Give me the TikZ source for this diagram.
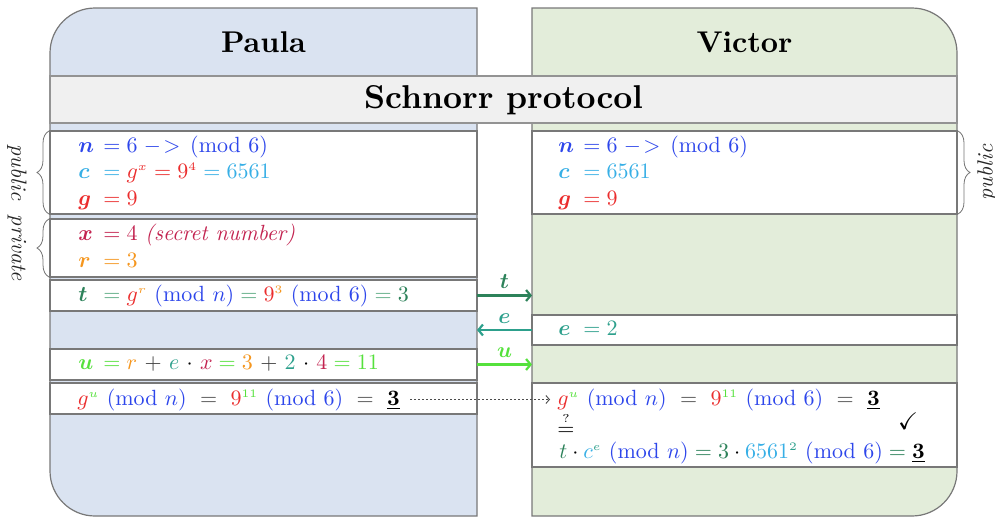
\RequirePackage{fix-cm}
\documentclass[tikz,border=0pt]{standalone}
\usepackage{amsmath,amssymb,bm}
\usetikzlibrary{arrows.meta,decorations.pathreplacing}
\DeclareMathSizes{10}{10}{5.2}{5}
\definecolor{nb}{RGB}{45,70,235}
\definecolor{cc}{RGB}{55,175,230}
\definecolor{gr}{RGB}{235,45,45}
\definecolor{xc}{RGB}{195,35,80}
\definecolor{ro}{RGB}{245,150,30}
\definecolor{tg}{RGB}{45,130,90}
\definecolor{tgl}{RGB}{90,170,130}
\definecolor{et}{RGB}{45,160,140}
\definecolor{ug}{RGB}{85,225,60}
\definecolor{pblue}{RGB}{218,227,241}
\definecolor{vgreen}{RGB}{227,237,218}
\definecolor{bandc}{RGB}{240,240,240}
\definecolor{edge}{RGB}{120,120,120}
\newcommand{\lhsv}[2]{\makebox[8.6pt][l]{$\color{#1}\bm{#2}$}}
\newcommand{\modsix}{\,(\mathrm{mod}\mkern6mu 6)}
\newcommand{\pmd}[1]{\mkern6mu(\mathrm{mod}\mkern6mu #1)}
\begin{document}
\begin{tikzpicture}[x=1pt,y=1pt,
  panelL/.style={fill=pblue, draw=edge, line width=1.2pt},
  panelR/.style={fill=vgreen, draw=edge, line width=1.2pt},
  box/.style={draw=edge, fill=white, line width=1.3pt, inner sep=0pt, outer sep=0pt},
  band/.style={draw=edge!80, fill=bandc, line width=1.2pt, inner sep=0pt},
  head/.style={inner sep=0pt, anchor=base, font=\bfseries, scale=3.0},
  ttlstyle/.style={inner sep=0pt, anchor=base, font=\bfseries, scale=3.3},
  txt/.style={inner sep=0pt, anchor=base west, scale=2.2},
  msg/.style={line width=2.2pt, -{Straight Barb[length=4.5pt,width=11pt]}},
  lbl/.style={anchor=base, yshift=7pt, inner sep=0pt, scale=2.2},
  dotarrow/.style={draw=black!70, line width=0.9pt, dash pattern=on 2pt off 2pt, -{Straight Barb[length=3.5pt,width=8pt]}},
  brace/.style={decorate, decoration={brace, amplitude=12pt}, draw=black!55, line width=0.8pt},
  rotlbl/.style={inner sep=0pt, font=\itshape, text=black!85, scale=2.2}]
\useasboundingbox (0,0) rectangle (995,-517);
% panels
\path[panelL] (477,-8) -- (95,-8) arc[start angle=90,end angle=180,radius=45] -- (50,-471) arc[start angle=180,end angle=270,radius=45] -- (477,-516) -- cycle;
\path[panelR] (532,-8) -- (912,-8) arc[start angle=90,end angle=0,radius=45] -- (957,-471) arc[start angle=0,end angle=-90,radius=45] -- (532,-516) -- cycle;
\node[head] (paula) at (263.5,-52) {Paula};
\node[head] (victor) at (744.5,-52) {Victor};
\node[band, minimum width=907, minimum height=47] (band) at (503.5,-99.5) {};
\node[ttlstyle] (ttl) at (503.5,-108) {Schnorr protocol};
% Paula boxes
\node[box, minimum width=427, minimum height=83] (pb1) at (263.5,-172.5) {};
\node[box, minimum width=427, minimum height=58] (pb2) at (263.5,-248) {};
\node[box, minimum width=427, minimum height=31] (pb3) at (263.5,-295.5) {};
\node[box, minimum width=427, minimum height=31] (pb4) at (263.5,-364.5) {};
\node[box, minimum width=427, minimum height=31] (pb5) at (263.5,-398.5) {};
% Victor boxes
\node[box, minimum width=425, minimum height=83] (vb1) at (744.5,-172.5) {};
\node[box, minimum width=425, minimum height=30] (vb2) at (744.5,-330) {};
\node[box, minimum width=425, minimum height=84] (vb3) at (744.5,-425) {};
% Paula texts
\node[txt] (l1) at (78,-152) {$\lhsv{nb}{n} \color{nb} = 6 \mathrel{-\!>} \modsix$};
\node[txt] (l2) at (78,-178) {$\lhsv{cc}{c} \color{cc} = \color{gr} g^{x} = 9^{4} \color{cc} = 6561$};
\node[txt] (l3) at (78,-205) {$\lhsv{gr}{g} \color{gr} = 9$};
\node[txt] (l4) at (78,-240) {$\lhsv{xc}{x} \color{xc} = 4\ \textit{(secret number)}$};
\node[txt] (l5) at (78,-267) {$\lhsv{ro}{r} \color{ro} = 3$};
\node[txt] (l6) at (78,-301) {$\lhsv{tg}{t} \color{tgl} = \color{gr} g^{\color{ro}r} \color{nb}\pmd{n} \color{tgl} = \color{gr} 9^{\color{ro}3} \color{nb}\pmd{6} \color{tgl} = \color{tg} 3$};
\node[txt] (l7) at (78,-369) {$\medmuskip=6mu \lhsv{ug}{u} \color{ug} = \color{ro} r \color{black!75} + \color{et} e \color{black} \cdot \color{xc} x \color{ug} = \color{ro} 3 \color{black!75} + \color{et} 2 \color{black}\cdot \color{xc} 4 \color{ug} = 11$};
\node[txt] (l8) at (77,-405) {$\color{gr} g^{\color{ug}u} \color{nb}\pmd{n} \color{black!70} \ =\ \color{gr} 9^{\color{ug}11} \color{nb}\pmd{6} \color{black!70}\ =\ \color{black}\underline{\mathbf{3}}$};
% Victor texts
\node[txt] (r1) at (558,-152) {$\lhsv{nb}{n} \color{nb} = 6 \mathrel{-\!>} \modsix$};
\node[txt] (r2) at (558,-178) {$\lhsv{cc}{c} \color{cc} = 6561$};
\node[txt] (r3) at (558,-205) {$\lhsv{gr}{g} \color{gr} = 9$};
\node[txt] (r4) at (558,-335) {$\lhsv{et}{e} \color{et} = 2$};
\node[txt] (r5) at (557,-405) {$\color{gr} g^{\color{ug}u} \color{nb}\pmd{n} \color{black!70} \ =\ \color{gr} 9^{\color{ug}11} \color{nb}\pmd{6} \color{black!70}\ =\ \color{black}\underline{\mathbf{3}}$};
\node[txt] (r6) at (557,-435) {$\stackrel{?}{=}$};
\node[txt] (r7) at (559,-458) {$\color{tg} t \color{black}\cdot \color{cc} c^{\color{et}e} \color{nb}\pmd{n} \color{tg} = 3 \color{black}\cdot \color{cc} 6561^{\color{et}2} \color{nb}\pmd{6} \color{tg} = \color{black}\underline{\mathbf{3}}$};
\node[inner sep=0pt, scale=2.4] (chk) at (908,-421) {$\checkmark$};
% connectors
\coordinate (vL) at (532,0);
\coordinate (pR) at (477,0);
\draw[msg, draw=tg] (pb3.east) -- node[lbl, text=tg] {$\bm{t}$} (pb3.east -| vL);
\draw[msg, draw=et] (vb2.west) -- node[lbl, text=et] {$\bm{e}$} (vb2.west -| pR);
\draw[msg, draw=ug] (pb4.east) -- node[lbl, text=ug] {$\bm{u}$} (pb4.east -| vL);
\draw[dotarrow] ([xshift=10pt]l8.east) -- ([xshift=-7pt]r5.west);
% braces
\draw[brace] ([xshift=-1pt]pb1.south west) -- ([xshift=-1pt]pb1.north west);
\draw[brace] ([xshift=-1pt]pb2.south west) -- ([xshift=-1pt]pb2.north west);
\draw[brace] ([xshift=1pt]vb1.north east) -- ([xshift=1pt]vb1.south east);
\node[rotlbl, rotate=-90] (pubL) at (17,-172.5) {public};
\node[rotlbl, rotate=-90] (privL) at (17,-248) {private};
\node[rotlbl, rotate=90] (pubR) at (987,-172.5) {public};
\end{tikzpicture}
\end{document}
